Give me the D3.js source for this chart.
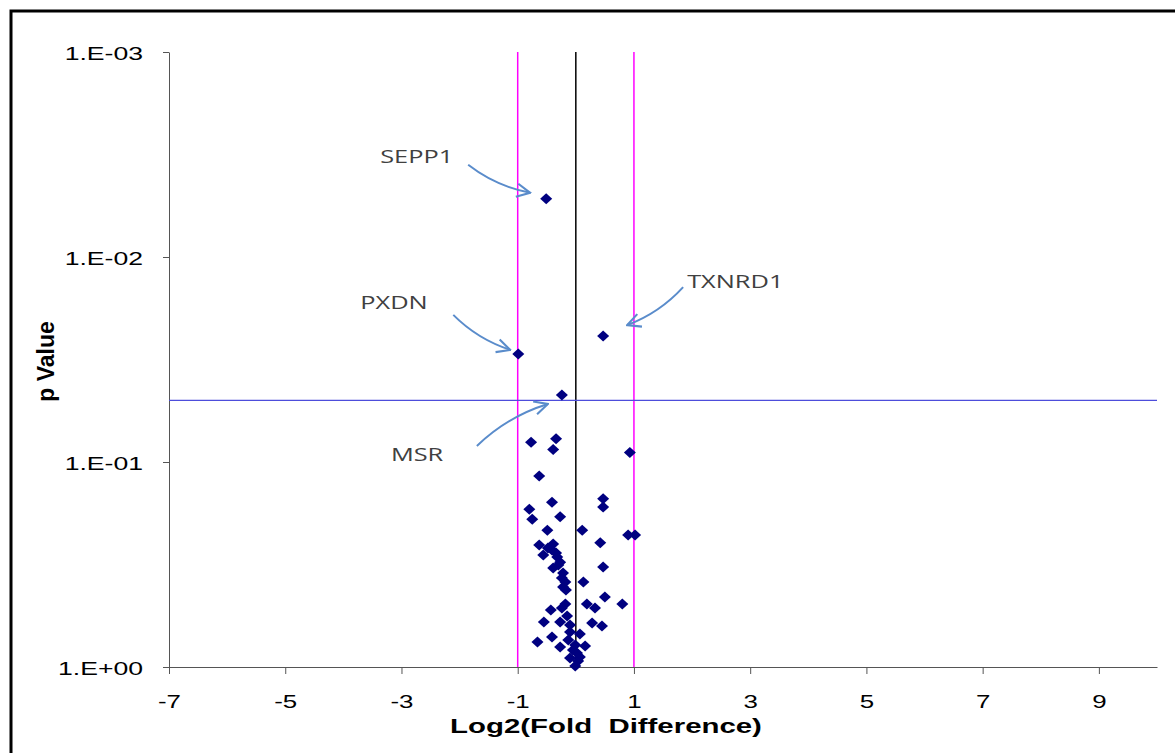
<!DOCTYPE html>
<html>
<head>
<meta charset="utf-8">
<script src="https://cdn.jsdelivr.net/npm/d3@7"></script>
<style>
  body { margin: 0; background: #fff; }
  svg { display: block; }
</style>
</head>
<body>
<svg id="chart"></svg>
<script>
// log2 fold difference and p value for each gene
var log2fc = [-0.51, -0.99, 0.47, -0.24,
  -0.77, -0.34, -0.39, -0.63, -0.41, -0.80, -0.75, -0.27, -0.49, 0.11,
  0.93, 0.47, 0.47, 0.90, 1.02, 0.42, -0.63, -0.39, -0.56, -0.41,
  -0.32, -0.30, -0.39, -0.22, -0.24, -0.18, -0.22, 0.47, 0.13, 0.50,
  0.80, 0.19, 0.33, -0.18, -0.43, -0.24, -0.15, -0.55, -0.27, -0.10,
  0.28, 0.45, -0.10, 0.07, -0.66, -0.41, -0.27, -0.13, -0.01, 0.16,
  0.02, -0.10, 0.07, -0.01, -0.48, -0.34, -0.27, -0.17, -0.05, 0.04];
var pvals = [0.0052, 0.0297, 0.0243, 0.0471,
  0.080, 0.077, 0.087, 0.117, 0.157, 0.170, 0.190, 0.185, 0.215, 0.215,
  0.090, 0.151, 0.166, 0.227, 0.227, 0.248, 0.254, 0.251, 0.284, 0.269,
  0.291, 0.318, 0.329, 0.348, 0.368, 0.385, 0.407, 0.325, 0.385, 0.456,
  0.493, 0.493, 0.515, 0.493, 0.527, 0.515, 0.564, 0.603, 0.603, 0.624,
  0.610, 0.631, 0.675, 0.690, 0.755, 0.714, 0.799, 0.738, 0.781, 0.790,
  0.855, 0.904, 0.894, 0.99, 0.263, 0.278, 0.308, 0.421, 0.826, 0.935];

// labelled genes: index into the arrays above
var geneNames = ['SEPP1', 'PXDN', 'TXNRD1', 'MSR'];
var geneIndex = [0, 1, 2, 3];

var xTicks = [-7, -5, -3, -1, 1, 3, 5, 7, 9];
var yTicks = [1e-3, 1e-2, 1e-1, 1];
var yTickLabels = ['1.E-03', '1.E-02', '1.E-01', '1.E+00'];
var foldCut = [-1, 1];
var pCut = 0.05;

var w = 1175, h = 753;
var sx = 1.4; // text in the original is stretched sideways
var svg = d3.select('#chart').attr('width', w).attr('height', h);

var x = d3.scaleLinear().domain([-7, 10]).range([169, 1157]);
var y = d3.scaleLog().domain([1, 1e-3]).range([667, 52]);

function stretch(sel, k, tx, ty){
  sel.attr('x', 0).attr('y', 0)
    .attr('transform', 'translate(' + tx + ',' + ty + ') scale(' + k + ',1)');
}

// outer frame
svg.append('rect')
  .attr('x', 11).attr('y', 11)
  .attr('width', w + 20).attr('height', h + 20)
  .attr('fill', 'none').attr('stroke', '#000').attr('stroke-width', 3);

// axes
var xAxis = svg.append('g')
  .attr('transform', 'translate(0,' + y(1) + ')')
  .call(d3.axisBottom(x).tickValues(xTicks).tickSize(7).tickSizeOuter(0)
    .tickFormat(function(d){ return d < 0 ? '-' + Math.abs(d) : d; }));
xAxis.select('.domain').attr('stroke', '#555');
xAxis.selectAll('.tick line').attr('stroke', '#555');
xAxis.selectAll('text')
  .attr('dy', null)
  .attr('font-family', 'Liberation Sans, Arial, sans-serif')
  .attr('font-size', '18.5px')
  .attr('fill', '#000')
  .call(stretch, sx, 0, 41);

var yAxis = svg.append('g')
  .attr('transform', 'translate(' + x(-7) + ',0)')
  .call(d3.axisLeft(y).tickValues(yTicks).tickSize(6).tickSizeOuter(0)
    .tickFormat(function(d, i){ return yTickLabels[i]; }));
yAxis.select('.domain').attr('stroke', '#555');
yAxis.selectAll('.tick line').attr('stroke', '#555');
yAxis.selectAll('text')
  .attr('dy', null)
  .attr('font-family', 'Liberation Sans, Arial, sans-serif')
  .attr('font-size', '19px')
  .attr('fill', '#000')
  .call(stretch, sx, -26, 7);

// cut-off lines
svg.selectAll('line.fold')
  .data(foldCut)
  .join('line')
  .attr('class', 'fold')
  .attr('x1', function(d){ return x(d); }).attr('x2', function(d){ return x(d); })
  .attr('y1', y(1e-3)).attr('y2', y(1))
  .attr('stroke', '#ff00ff').attr('stroke-width', 1.5);

svg.append('line')
  .attr('x1', x(0)).attr('x2', x(0))
  .attr('y1', y(1e-3)).attr('y2', y(1))
  .attr('stroke', '#000').attr('stroke-width', 1.5);

svg.append('line')
  .attr('x1', x(-7)).attr('x2', x(10))
  .attr('y1', y(pCut)).attr('y2', y(pCut))
  .attr('stroke', '#4d4ddb').attr('stroke-width', 1.2);

// points
var points = log2fc.map(function(d, i){ return {fc: d, p: pvals[i]}; });
svg.selectAll('path.pt')
  .data(points)
  .join('path')
  .attr('class', 'pt')
  .attr('d', 'M0,-5.5L6,0L0,5.5L-6,0Z')
  .attr('transform', function(d){ return 'translate(' + x(d.fc) + ',' + y(d.p) + ')'; })
  .attr('fill', '#000080');

// annotations: label offset and arrow, relative to the point
var annot = [
  {tx: -166, ty: -36, sx: -78, sy: -34, ex: -16, ey: -6, bend: 6},
  {tx: -158, ty: -45, sx: -65, sy: -39, ex: -8, ey: -4, bend: 6},
  {tx: 84, ty: -48, sx: 80, sy: -49, ex: 24, ey: -11, bend: -6},
  {tx: -171, ty: 66, sx: -85, sy: 51, ex: -14, ey: 9, bend: -6}
];

var arrowColor = '#5a8ccb';
svg.append('defs').append('marker')
  .attr('id', 'arrow')
  .attr('viewBox', '0 0 12 12')
  .attr('refX', 11).attr('refY', 6)
  .attr('markerWidth', 16).attr('markerHeight', 16)
  .attr('markerUnits', 'userSpaceOnUse')
  .attr('orient', 'auto')
  .append('path')
  .attr('d', 'M1,1L11,6L1,11')
  .attr('fill', 'none')
  .attr('stroke', arrowColor)
  .attr('stroke-width', 1.6);

geneNames.forEach(function(name, i){
  var d = points[geneIndex[i]];
  var px = x(d.fc), py = y(d.p);
  var a = annot[i];
  svg.append('text')
    .attr('font-family', 'Open Sans, Liberation Sans, sans-serif')
    .attr('font-size', '17.5px')
    .attr('fill', '#404040')
    .text(name)
    .call(stretch, 1.45, px + a.tx, py + a.ty);
  var x0 = px + a.sx, y0 = py + a.sy, x1 = px + a.ex, y1 = py + a.ey;
  var mx = (x0 + x1) / 2 - (y1 - y0) * a.bend / 100 * 2, my = (y0 + y1) / 2 + (x1 - x0) * a.bend / 100 * 2;
  svg.append('path')
    .attr('d', 'M' + x0 + ',' + y0 + 'Q' + mx + ',' + my + ' ' + x1 + ',' + y1)
    .attr('fill', 'none')
    .attr('stroke', arrowColor)
    .attr('stroke-width', 2)
    .attr('marker-end', 'url(#arrow)');
});

// axis titles
svg.append('text')
  .attr('text-anchor', 'middle')
  .attr('font-family', 'Liberation Sans, Arial, sans-serif')
  .attr('font-size', '21px').attr('font-weight', 'bold')
  .text('Log2(Fold  Difference)')
  .style('white-space', 'pre')
  .call(stretch, 1.4, 606, 733);

svg.append('text')
  .attr('transform', 'translate(54,' + ((y(1e-3) + y(1)) / 2 + 2) + ') rotate(-90)')
  .attr('text-anchor', 'middle')
  .attr('font-family', 'Liberation Sans, Arial, sans-serif')
  .attr('font-size', '23px').attr('font-weight', 'bold')
  .text('p Value');
</script>
</body>
</html>
